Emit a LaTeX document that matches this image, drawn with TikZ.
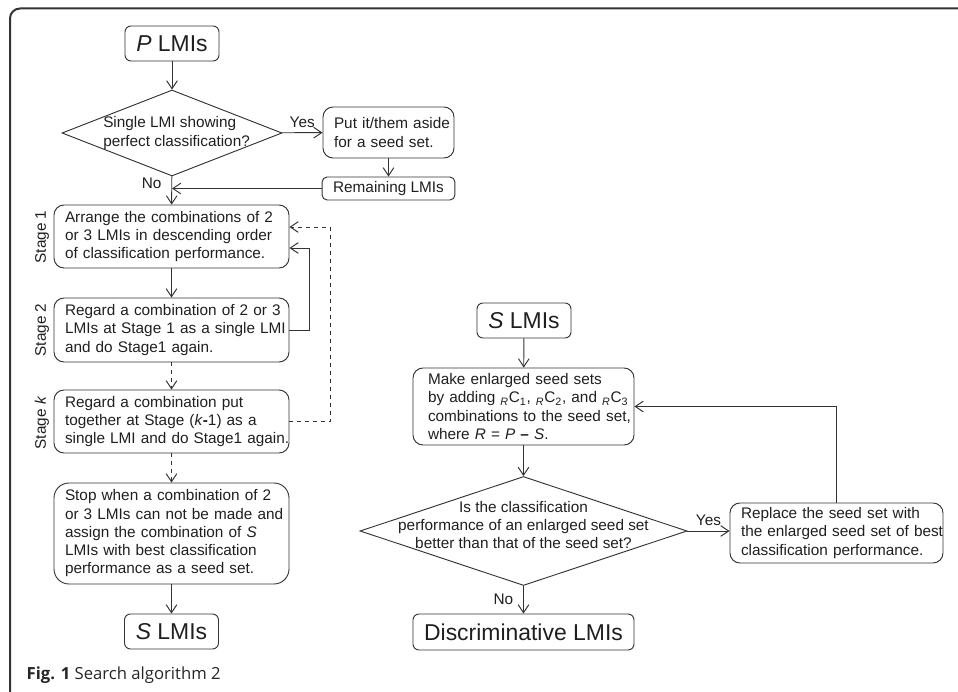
\documentclass[tikz,border=0pt]{standalone}
\usepackage{fontspec}
\setmainfont{Liberation Sans}
\newfontfamily\capfont{Open Sans}
\usetikzlibrary{arrows.meta,shapes.geometric}
\newdimen\pu \pu=0.75pt
\definecolor{ink}{HTML}{333333}
\tikzset{
  >={Straight Barb[length=6pt,width=8pt]},
  proc/.style={draw=ink, line width=0.7pt, rounded corners=10\pu, align=left,
    inner xsep=11\pu, text=black!88, font=\fontsize{11.5}{13.7}\selectfont,
    execute at begin node={\rightskip=-14pt plus 1fil}},
  bigbox/.style={draw=ink, line width=0.7pt, rounded corners=6\pu, inner sep=0pt,
    minimum height=35\pu, text=black!88, font=\fontsize{17.2}{20}\selectfont},
  ask/.style={draw=ink, line width=0.7pt, diamond, inner sep=0pt},
  lbl/.style={text=black!88, font=\fontsize{11.5}{13.7}\selectfont},
  link/.style={draw=ink, line width=0.7pt, ->},
}
\begin{document}
\begin{tikzpicture}[x=0.75pt,y=-0.75pt]
    \clip (0,0) rectangle (958,692);
    \draw[ink, line width=1.5pt, rounded corners=10\pu] (10,8.5) rectangle (1000,740);

    % left column
    \node[bigbox, minimum width=94\pu] (p) at (172,43.5) {\textit{P} LMIs};
    \node[ask, minimum width=220\pu, minimum height=86\pu] (q1) at (172,133) {};
    \node[lbl, align=left, anchor=west, inner sep=0pt] (q1t) at (103,133) {Single LMI showing\\perfect classification?};
    \node[proc, text width=109\pu, minimum height=51\pu] (aside) at (388.5,132.5) {Put it/them aside\\for a seed set.};
    \node[proc, align=center, minimum width=131\pu, minimum height=23\pu, inner ysep=0pt, rounded corners=5\pu] (rem) at (388.5,188.5) {Remaining LMIs};
    \node[proc, text width=213\pu, minimum height=63\pu] (st1) at (171.5,236.5) {Arrange the combinations of 2\\or 3 LMIs in descending order\\of classification performance.};
    \node[proc, text width=213\pu, minimum height=64\pu] (st2) at (171.5,330) {Regard a combination of 2 or 3\\LMIs at Stage 1 as a single LMI\\and do Stage1 again.};
    \node[proc, text width=213\pu, minimum height=63\pu] (stk) at (171.5,421.5) {Regard a combination put\\together at Stage (\textit{k}\textbf{-}1) as a\\single LMI and do Stage1 again.};
    \node[proc, text width=213\pu, minimum height=101\pu, rounded corners=15\pu] (stop) at (171.5,533.5) {Stop when a combination of 2\\or 3 LMIs can not be made and\\assign the combination of \textit{S}\\LMIs with best classification\\performance as a seed set.};
    \node[bigbox, minimum width=94\pu] (s1) at (171.5,631.5) {\textit{S} LMIs};
    \node[lbl, rotate=90] (l1) at (42,237) {Stage 1};
    \node[lbl, rotate=90] (l2) at (42,330) {Stage 2};
    \node[lbl, rotate=90] (lk) at (42,423) {Stage \textit{k}};

    \draw[link] (p) -- (q1);
    \draw[link] (q1) -- node[lbl, above, pos=0.5] (yes1) {Yes} (aside);
    \draw[link] (aside) -- (rem);
    \draw[link] (rem) -- (rem -| q1);
    \draw[link] (q1) -- node[lbl, left, pos=0.25, xshift=-4pt] (no1) {No} (st1);
    \draw[link] (st1) -- (st2);
    \draw[link, dashed] (st2) -- (stk);
    \draw[link, dashed] (stk) -- (stop);
    \draw[link] (stop) -- (s1);
    \draw[link] (st2.east) -- ++(20,0) |- ([yshift=-11.5\pu]st1.east);
    \draw[link, dashed] (stk.east) -- ++(41,0) |- ([yshift=9.5\pu]st1.east);

    % right column
    \node[bigbox, minimum width=94\pu] (s2) at (524,320.5) {\textit{S} LMIs};
    \node[proc, text width=191\pu, inner xsep=15\pu, minimum height=77\pu] (mk) at (523.5,406.5) {Make enlarged seed sets\\by adding \textsubscript{\textit{R}}C\textsubscript{1}, \textsubscript{\textit{R}}C\textsubscript{2}, and \textsubscript{\textit{R}}C\textsubscript{3}\\combinations to the seed set,\\where \textit{R} = \textit{P} \textbf{--} \textit{S}.};
    \node[ask, minimum width=327\pu, minimum height=109\pu] (q2) at (523.5,531) {};
    \node[lbl, align=center, inner sep=0pt] (q2t) at (523.5,525) {Is the classification\\performance of an enlarged seed set\\better than that of the seed set?};
    \node[proc, text width=191\pu, minimum height=60\pu] (rep) at (836.5,533) {Replace the seed set with\\the enlarged seed set of best\\classification performance.};
    \node[bigbox, minimum width=221\pu, minimum height=36\pu] (dl) at (523.5,632) {Discriminative LMIs};

    \draw[link] (s2) -- (mk);
    \draw[link] (mk) -- (q2);
    \draw[link] (q2.east) -- node[lbl, above] (yes2) {Yes} (q2.east -| rep.west);
    \draw[link] (rep) |- (mk);
    \draw[link] (q2) -- node[lbl, left, xshift=-4pt] (no2) {No} (dl);

    \node[anchor=west, text=black!85, font=\capfont\fontsize{12.5}{15}\selectfont] (cap) at (22,675) {\textbf{Fig. 1} Search algorithm 2};
\end{tikzpicture}
\end{document}
